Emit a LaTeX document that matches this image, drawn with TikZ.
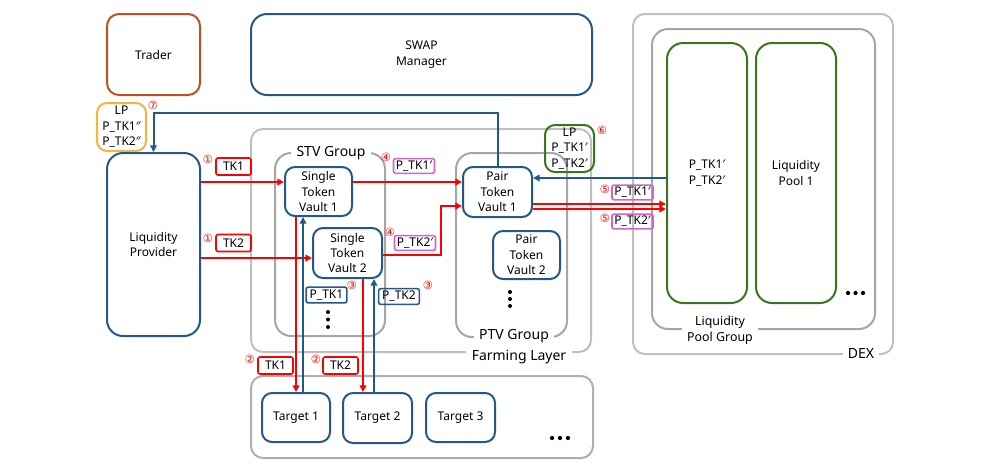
\documentclass[tikz,border=0pt]{standalone}
\usepackage{fontspec}
\setmainfont{Noto Sans}
\newfontfamily\circfont{DejaVu Sans}
\usetikzlibrary{fit,arrows.meta}
\definecolor{bx}{HTML}{24578A}
\definecolor{ln}{HTML}{1F5C85}
\definecolor{gl}{HTML}{BFBFBF}
\definecolor{gd}{HTML}{A6A6A6}
\definecolor{gr}{HTML}{38761D}
\definecolor{mg}{HTML}{CC66CC}
\definecolor{tr}{HTML}{C0501F}
\definecolor{yl}{HTML}{F7B538}
\definecolor{rd}{HTML}{FF0000}
\newcommand\mainfs{\fontsize{9}{11.6}\selectfont}
\newcommand\grpfs{\fontsize{10.5}{12}\selectfont}
\begin{document}
\begin{tikzpicture}[x=0.75pt,y=-0.75pt,
  box/.style={draw=bx, line width=1.5pt, rounded corners=7.5pt, inner sep=0pt, align=center, font=\mainfs},
  sz/.style 2 args={minimum width=#1*0.75pt, minimum height=#2*0.75pt},
  cont/.style={draw=gl, line width=1.5pt, rounded corners=9pt, inner sep=0pt},
  grp/.style={draw=gd, line width=1.5pt, rounded corners=12pt, inner sep=0pt},
  glabel/.style={fill=white, inner xsep=4pt, inner ysep=1pt, font=\grpfs, align=center},
  lbl/.style={draw, line width=1.2pt, rounded corners=1.5pt, inner sep=0pt, font=\mainfs},
  redl/.style={lbl, draw=rd, minimum width=26.25pt, minimum height=12.75pt},
  mgl/.style={lbl, draw=mg, minimum width=30.75pt, minimum height=11pt},
  bll/.style={lbl, draw=bx, minimum width=30.5pt, minimum height=11.75pt},
  num/.style={text=rd, font=\circfont\fontsize{8.5}{9}\selectfont, inner sep=0pt},
  redarrow/.style={draw=rd, line width=1.5pt, -{Triangle[length=5pt,width=5pt]}},
  bluearrow/.style={draw=ln, line width=1.5pt, -{Triangle[length=5pt,width=5pt]}},
  dot/.style={fill=black, draw=none}
]
\useasboundingbox (0,0) rectangle (998,469);

% containers
\node[cont, fit={(251,129) (591,352)}] (farm) {};
\node[cont, fit={(633,14) (893,354)}] (dex) {};
\node[grp, fit={(652,29) (875,329)}] (lpgrp) {};
\node[grp, fit={(275,153) (385,336)}] (stv) {};
\node[grp, fit={(456,153) (567,337)}] (ptvg) {};
\node[cont, draw=gd!90, fit={(251,376) (593,458)}] (tgt) {};

% main boxes
\node[box, draw=tr, rounded corners=9pt, sz={93}{81}] (trader) at (153.5,54.5) {Trader};
\node[box, rounded corners=12pt, sz={341}{81}] (swap) at (421.5,54.5) {SWAP\\Manager};
\node[box, draw=yl, sz={49}{48}] (lpy) at (121.5,127) {LP\\P\_TK1″\\P\_TK2″};
\node[box, rounded corners=12pt, sz={93}{183}] (lp) at (153.5,244.5) {Liquidity\\Provider};
\node[box, sz={67}{49}] (svt1) at (318.5,191.5) {Single\\Token\\Vault 1};
\node[box, sz={69}{50}] (svt2) at (347.5,253) {Single\\Token\\Vault 2};
\node[box, sz={69}{50}] (ptv1) at (497.5,192) {Pair\\Token\\Vault 1};
\node[box, sz={67}{48}] (ptv2) at (526.5,255) {Pair\\Token\\Vault 2};
\node[box, draw=gr, sz={49}{47}] (lpg) at (569.5,148.5) {LP\\P\_TK1′\\P\_TK2′};
\node[box, draw=gr, rounded corners=12pt, sz={80}{260}] (pool1) at (707,173) {P\_TK1′\\P\_TK2′};
\node[box, draw=gr, rounded corners=12pt, sz={80}{260}] (pool2) at (796,173) {Liquidity\\Pool 1};
\node[box, sz={68}{49}] (t1) at (296,417.5) {Target 1};
\node[box, sz={69}{50}] (t2) at (377.5,418) {Target 2};
\node[box, sz={69}{49}] (t3) at (460.5,417.5) {Target 3};

% group labels
\node[glabel] (stvl) at (331,153) {STV Group};
\node[glabel] (ptvl) at (514,336) {PTV Group};
\node[glabel] (farml) at (519,357) {Farming Layer};
\node[glabel] (dexl) at (861,353) {DEX};
\node[glabel, font=\fontsize{9.3}{12}\selectfont] (lpgl) at (720,330) {Liquidity\\Pool Group};

% connectors
\draw[bluearrow] (ptv1.north) -- (ptv1.north |- 0,113) -| (lp.north);
\draw[redarrow] (lp.east |- 0,182) -- (svt1.west |- 0,182);
\draw[redarrow] (lp.east |- 0,258) -- (svt2.west |- 0,258);
\draw[redarrow] (svt1.east |- 0,182) -- (ptv1.west |- 0,182);
\draw[redarrow] (svt2.east |- 0,255) -- (441,255) -- (441,206) -- (ptv1.west |- 0,206);
\draw[redarrow] (ptv1.east |- 0,204) -- (pool1.west |- 0,204);
\draw[redarrow] (ptv1.east |- 0,209) -- (pool1.west |- 0,209);
\draw[bluearrow] (pool1.west |- 0,178) -- (ptv1.east |- 0,178);
\draw[redarrow] (svt1.south -| 296,0) -- (t1.north -| 296,0);
\draw[bluearrow] (t1.north -| 303,0) -- (svt1.south -| 303,0);
\draw[redarrow] (svt2.south -| 363,0) -- (t2.north -| 363,0);
\draw[bluearrow] (t2.north -| 374,0) -- (svt2.south -| 374,0);

% flow labels
\node[redl] (l1a) at (233.5,166.5) {TK1};
\node[redl] (l1b) at (233.5,243) {TK2};
\node[redl] (l2a) at (275.5,365.5) {TK1};
\node[redl] (l2b) at (340.5,365.5) {TK2};
\node[bll] (l3a) at (326.5,295) {P\_TK1};
\node[bll] (l3b) at (399,296.5) {P\_TK2};
\node[mgl] (l4a) at (414,166) {P\_TK1′};
\node[mgl] (l4b) at (415,243) {P\_TK2′};
\node[mgl] (l5a) at (632.5,192.5) {P\_TK1′};
\node[mgl] (l5b) at (632.5,221.5) {P\_TK2′};

% step numbers
\node[num] (n1a) at (208,159) {①};
\node[num] (n1b) at (208,238) {①};
\node[num] (n2a) at (250,359) {②};
\node[num] (n2b) at (316,359) {②};
\node[num] (n3a) at (352,285) {③};
\node[num] (n3b) at (428,285) {③};
\node[num] (n4a) at (386,157) {④};
\node[num] (n4b) at (390,232) {④};
\node[num] (n5a) at (605,189) {⑤};
\node[num] (n5b) at (605,218) {⑤};
\node[num] (n6) at (602,130) {⑥};
\node[num] (n7) at (153,105) {⑦};

% ellipses
\foreach \yy in {312,319.5,327} \fill[dot] (328,\yy) circle (1.5pt);
\foreach \yy in {292,299,306} \fill[dot] (510,\yy) circle (1.5pt);
\foreach \xx in {552,560,568} \fill[dot] (\xx,438) circle (1.6pt);
\foreach \xx in {848,855.5,863} \fill[dot] (\xx,293) circle (1.6pt);
\end{tikzpicture}
\end{document}
